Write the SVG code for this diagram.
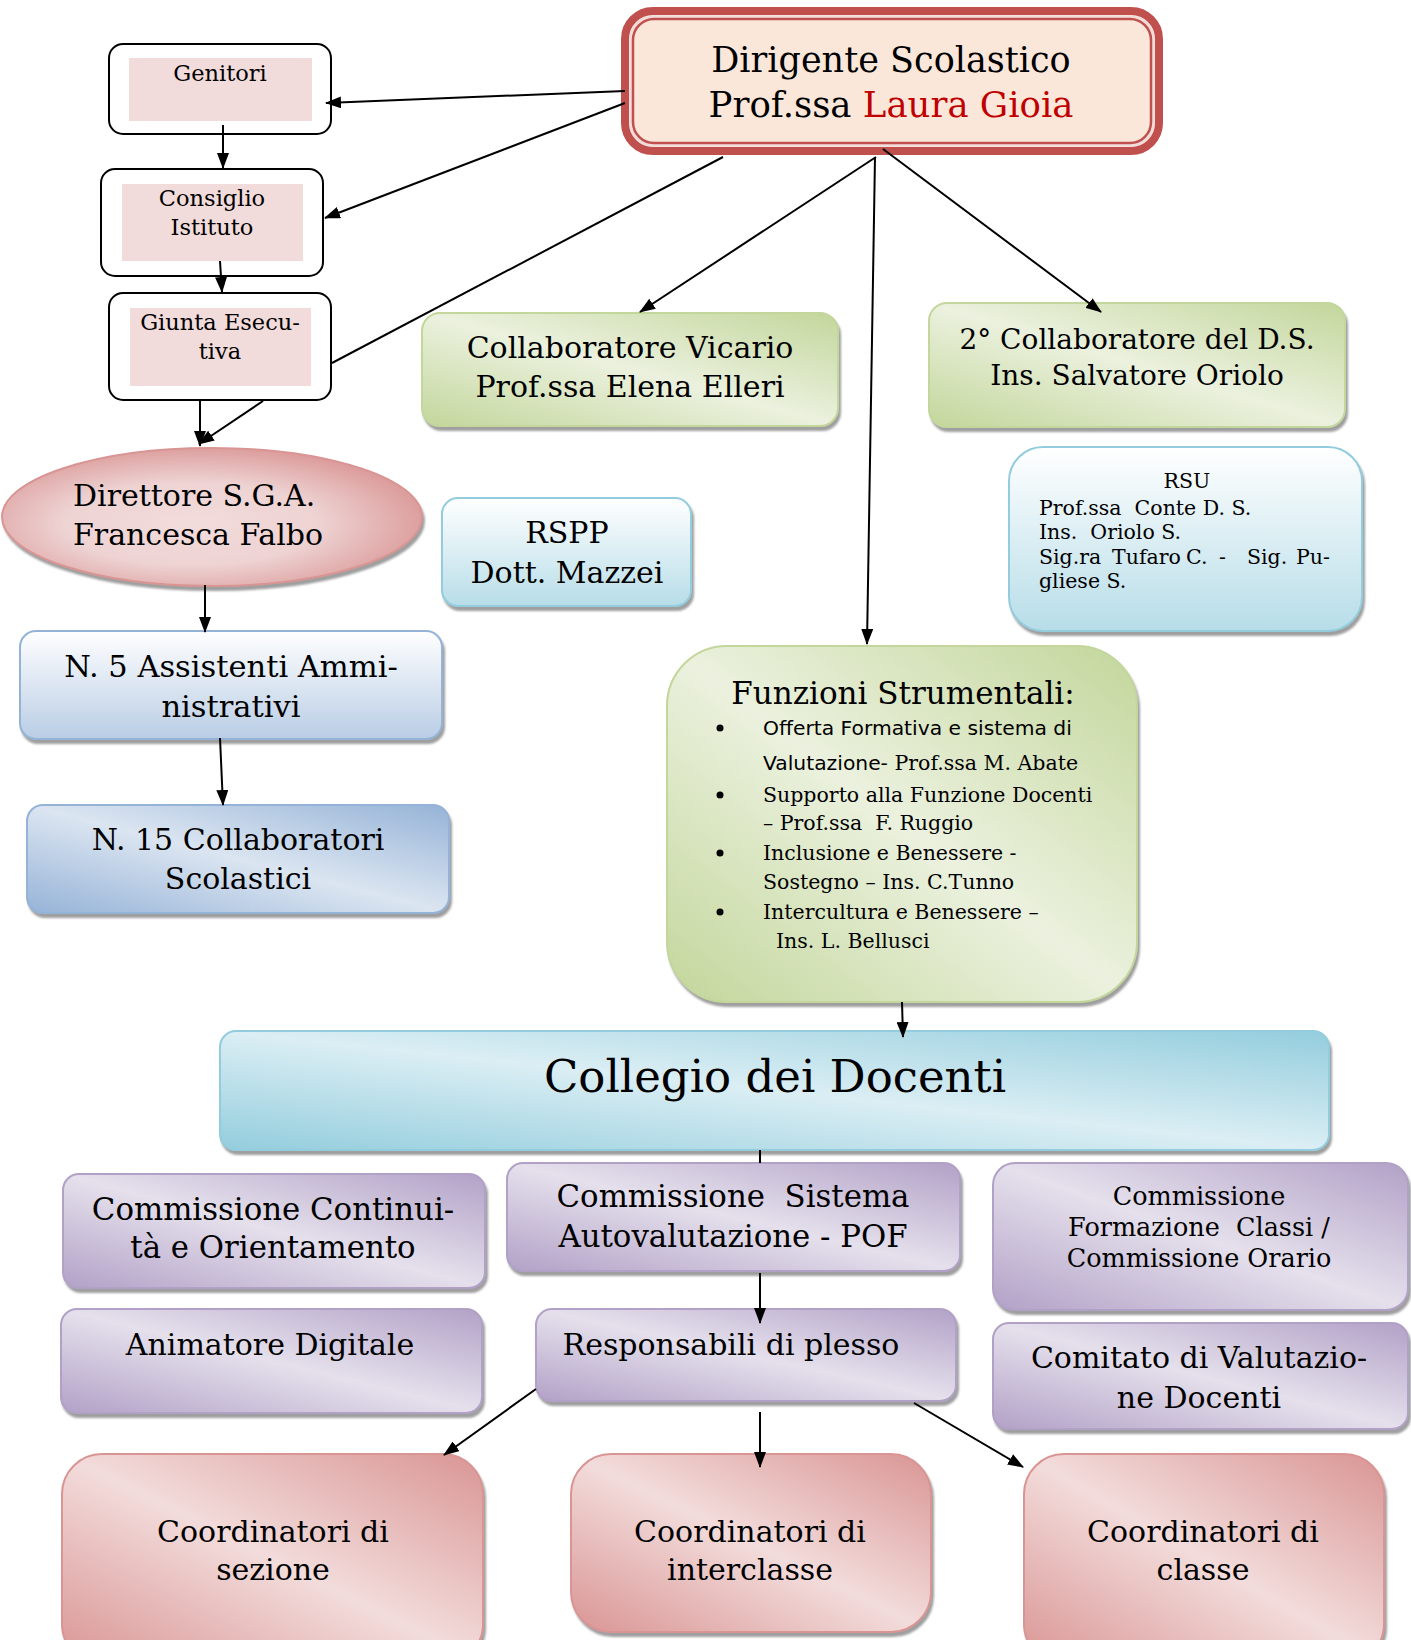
<svg xmlns="http://www.w3.org/2000/svg" width="1411" height="1640" viewBox="0 0 1411 1640">
<defs>
<filter id="sh" x="-5%" y="-5%" width="112%" height="120%">
<feDropShadow dx="2" dy="4" stdDeviation="0.8" flood-color="#7f7f7f" flood-opacity="0.75"/>
</filter>
<linearGradient id="gGreen" x1="1" y1="0" x2="0" y2="1">
<stop offset="0" stop-color="#c3d69b"/><stop offset="0.5" stop-color="#ebf1de"/><stop offset="1" stop-color="#c3d69b"/>
</linearGradient>
<linearGradient id="gPurple" x1="1" y1="0" x2="0" y2="1">
<stop offset="0" stop-color="#b2a1c7"/><stop offset="0.5" stop-color="#e5e0ec"/><stop offset="1" stop-color="#b2a1c7"/>
</linearGradient>
<linearGradient id="gPink" x1="1" y1="0" x2="0" y2="1">
<stop offset="0" stop-color="#d99594"/><stop offset="0.5" stop-color="#f2dcdb"/><stop offset="1" stop-color="#d99594"/>
</linearGradient>
<linearGradient id="gCyan" x1="1" y1="0" x2="0" y2="1">
<stop offset="0" stop-color="#93cddd"/><stop offset="0.5" stop-color="#dbeef4"/><stop offset="1" stop-color="#93cddd"/>
</linearGradient>
<linearGradient id="gBlueD" x1="1" y1="0" x2="0" y2="1">
<stop offset="0" stop-color="#95b3d7"/><stop offset="0.5" stop-color="#dbe5f1"/><stop offset="1" stop-color="#95b3d7"/>
</linearGradient>
<linearGradient id="gBlueV" x1="0" y1="0" x2="0" y2="1">
<stop offset="0" stop-color="#ffffff"/><stop offset="1" stop-color="#b9cde5"/>
</linearGradient>
<linearGradient id="gAquaV" x1="0" y1="0" x2="0" y2="1">
<stop offset="0" stop-color="#ffffff"/><stop offset="1" stop-color="#b7dde8"/>
</linearGradient>
<radialGradient id="gEll" cx="0.45" cy="0.55" r="0.6">
<stop offset="0" stop-color="#f2dcdb"/><stop offset="0.5" stop-color="#eed3d3"/><stop offset="1" stop-color="#d99594"/>
</radialGradient>
<marker id="arr" markerWidth="16" markerHeight="12" refX="15" refY="6" orient="auto" markerUnits="userSpaceOnUse">
<path d="M0,0 L16,6 L0,12 z" fill="#000"/>
</marker>
</defs>
<style>
text{font-family:"DejaVu Serif","Liberation Serif",serif;fill:#000}
.c{text-anchor:middle}
.f30{font-size:30px}
.f31{font-size:30.8px}
.f22{font-size:22.5px}
.f20{font-size:20.5px}
.cn{stroke:#000;stroke-width:2;fill:none}
.ar{marker-end:url(#arr)}
.wb{fill:#fff;stroke:#000;stroke-width:2}
.pin{fill:#f2dcdb}
.green{fill:url(#gGreen);stroke:#c3d69b;stroke-width:2;filter:url(#sh)}
.purple{fill:url(#gPurple);stroke:#b2a1c7;stroke-width:2;filter:url(#sh)}
.pink{fill:url(#gPink);stroke:#d99594;stroke-width:2;filter:url(#sh)}
.comic{font-family:"DejaVu Sans","Noto Sans",sans-serif;font-size:20.3px}
</style>

<g id="dirigente">
<rect x="625" y="11" width="534" height="140" rx="28" fill="#fbe7da" stroke="#c0504d" stroke-width="8"/>
<rect x="631" y="17" width="522" height="128" rx="22" fill="none" stroke="#f2dcdb" stroke-width="3"/>
<rect x="633" y="19" width="518" height="124" rx="21" fill="none" stroke="#c0504d" stroke-width="2.5"/>
<text class="c" x="891" y="72" font-size="35">Dirigente Scolastico</text>
<text class="c" x="891" y="117" font-size="35.5">Prof.ssa <tspan fill="#c00000">Laura Gioia</tspan></text>
</g>

<g id="genitori">
<rect class="wb" x="109" y="44" width="222" height="90" rx="14"/>
<rect class="pin" x="129" y="58" width="183" height="63"/>
<text class="c f22" x="220" y="81">Genitori</text>
</g>

<g id="consiglio">
<rect class="wb" x="101" y="169" width="222" height="107" rx="14"/>
<rect class="pin" x="122" y="184" width="181" height="77"/>
<text class="c f22" x="212" y="206">Consiglio</text>
<text class="c f22" x="212" y="235">Istituto</text>
</g>

<g id="giunta">
<rect class="wb" x="109" y="293" width="222" height="107" rx="14"/>
<rect class="pin" x="130" y="308" width="181" height="78"/>
<text class="c f22" x="220" y="330">Giunta Esecu-</text>
<text class="c f22" x="220" y="359">tiva</text>
</g>

<g id="vicario">
<rect class="green" x="422" y="313" width="416" height="113" rx="18"/>
<text class="c f30" x="630" y="358">Collaboratore Vicario</text>
<text class="c f30" x="630" y="397">Prof.ssa Elena Elleri</text>
</g>

<g id="collaboratore2">
<rect class="green" x="929" y="303" width="416" height="124" rx="18"/>
<text class="c" x="1137" y="349" font-size="28">2° Collaboratore del D.S.</text>
<text class="c" x="1137" y="385" font-size="28">Ins. Salvatore Oriolo</text>
</g>

<g id="direttore">
<ellipse cx="212" cy="517" rx="210" ry="69" fill="url(#gEll)" stroke="#d99594" stroke-width="2" filter="url(#sh)"/>
<text class="f30" x="73" y="506">Direttore S.G.A.</text>
<text class="f30" x="73" y="545">Francesca Falbo</text>
</g>

<g id="rspp">
<rect x="442" y="498" width="249" height="108" rx="16" fill="url(#gAquaV)" stroke="#93cddd" stroke-width="2" filter="url(#sh)"/>
<text class="c f30" x="567" y="543">RSPP</text>
<text class="c f30" x="567" y="583">Dott. Mazzei</text>
</g>

<g id="rsu">
<rect x="1009" y="447" width="353" height="184" rx="34" fill="url(#gAquaV)" stroke="#93cddd" stroke-width="2" filter="url(#sh)"/>
<text class="c f20" x="1187" y="488">RSU</text>
<text class="f20" x="1039" y="515" xml:space="preserve">Prof.ssa  Conte D. S.</text>
<text class="f20" x="1039" y="539" xml:space="preserve">Ins.  Oriolo S.</text>
<text class="f20" y="564" xml:space="preserve"><tspan x="1039">Sig.ra</tspan><tspan x="1112">Tufaro</tspan><tspan x="1186">C.</tspan><tspan x="1219">-</tspan><tspan x="1247">Sig.</tspan><tspan x="1296">Pu-</tspan></text>
<text class="f20" x="1039" y="588">gliese S.</text>
</g>

<g id="funzioni">
<rect class="green" x="667" y="646" width="470" height="356" rx="60"/>
<text class="c" x="903" y="704" font-size="31">Funzioni Strumentali:</text>
<circle cx="720" cy="728" r="3.5"/>
<circle cx="720" cy="795" r="3.5"/>
<circle cx="720" cy="853" r="3.5"/>
<circle cx="720" cy="912" r="3.5"/>
<text class="comic" x="763" y="735">Offerta Formativa e sistema di</text>
<text class="f20" x="763" y="770"><tspan class="comic">Valutazione-</tspan> Prof.ssa M. Abate</text>
<text class="f20" x="763" y="802">Supporto alla Funzione Docenti</text>
<text class="f20" x="763" y="830" xml:space="preserve">– Prof.ssa  F. Ruggio</text>
<text class="f20" x="763" y="860">Inclusione e Benessere -</text>
<text class="f20" x="763" y="889">Sostegno – Ins. C.Tunno</text>
<text class="f20" x="763" y="919">Intercultura e Benessere –</text>
<text class="f20" x="776" y="948">Ins. L. Bellusci</text>
</g>

<g id="assistenti">
<rect x="20" y="631" width="422" height="108" rx="16" fill="url(#gBlueV)" stroke="#95b3d7" stroke-width="2" filter="url(#sh)"/>
<text class="c" x="231" y="677" font-size="30.5">N. 5 Assistenti Ammi-</text>
<text class="c" x="231" y="717" font-size="30.5">nistrativi</text>
</g>

<g id="collaboratori-scolastici">
<rect x="27" y="805" width="422" height="108" rx="16" fill="url(#gBlueD)" stroke="#95b3d7" stroke-width="2" filter="url(#sh)"/>
<text class="c f30" x="238" y="850">N. 15 Collaboratori</text>
<text class="c f30" x="238" y="889">Scolastici</text>
</g>

<g id="collegio">
<rect x="220" y="1031" width="1109" height="119" rx="16" fill="url(#gCyan)" stroke="#93cddd" stroke-width="2" filter="url(#sh)"/>
<text class="c" x="775" y="1092" font-size="45">Collegio dei Docenti</text>
</g>

<g id="comm-continuita">
<rect class="purple" x="63" y="1174" width="422" height="114" rx="16"/>
<text class="c f31" x="273" y="1220">Commissione Continui-</text>
<text class="c f31" x="273" y="1258">tà e Orientamento</text>
</g>

<g id="comm-sistema">
<rect class="purple" x="507" y="1163" width="453" height="108" rx="16"/>
<text class="c f31" x="733" y="1207" xml:space="preserve">Commissione  Sistema</text>
<text class="c f31" x="733" y="1247">Autovalutazione - POF</text>
</g>

<g id="comm-formazione">
<rect class="purple" x="993" y="1163" width="415" height="147" rx="22"/>
<text class="c" x="1199" y="1205" font-size="25.5">Commissione</text>
<text class="c" x="1199" y="1236" font-size="25.5" xml:space="preserve">Formazione  Classi /</text>
<text class="c" x="1199" y="1267" font-size="25.5">Commissione Orario</text>
</g>

<g id="animatore">
<rect class="purple" x="61" y="1309" width="421" height="104" rx="16"/>
<text class="c f30" x="270" y="1355">Animatore Digitale</text>
</g>

<g id="responsabili">
<rect class="purple" x="536" y="1309" width="420" height="92" rx="16"/>
<text class="c f30" x="731" y="1355">Responsabili di plesso</text>
</g>

<g id="comitato">
<rect class="purple" x="993" y="1323" width="415" height="106" rx="16"/>
<text class="c f30" x="1199" y="1368">Comitato di Valutazio-</text>
<text class="c f30" x="1199" y="1408">ne Docenti</text>
</g>

<g id="coord-sezione">
<rect class="pink" x="62" y="1454" width="421" height="210" rx="40"/>
<text class="c f30" x="273" y="1542">Coordinatori di</text>
<text class="c f30" x="273" y="1580">sezione</text>
</g>

<g id="coord-interclasse">
<rect class="pink" x="571" y="1454" width="360" height="178" rx="40"/>
<text class="c f30" x="750" y="1542">Coordinatori di</text>
<text class="c f30" x="750" y="1580">interclasse</text>
</g>

<g id="coord-classe">
<rect class="pink" x="1024" y="1454" width="360" height="210" rx="40"/>
<text class="c f30" x="1203" y="1542">Coordinatori di</text>
<text class="c f30" x="1203" y="1580">classe</text>
</g>

<g id="connectors">
<path class="cn ar" d="M625,91 L326,103"/>
<path class="cn ar" d="M625,103 L325,218"/>
<path class="cn" d="M723,157 L332,363"/>
<path class="cn ar" d="M263,401 L199,444"/>
<path class="cn ar" d="M200,400 L200,446"/>
<path class="cn ar" d="M223,125 L223,168"/>
<path class="cn ar" d="M220,261 L222,292"/>
<path class="cn ar" d="M876,157 L640,312"/>
<path class="cn ar" d="M875,157 L867,644"/>
<path class="cn ar" d="M883,149 L1101,312"/>
<path class="cn ar" d="M205,585 L205,632"/>
<path class="cn ar" d="M220,738 L223,805"/>
<path class="cn ar" d="M902,1002 L903,1037"/>
<path class="cn" d="M760,1150 L760,1163"/>
<path class="cn ar" d="M760,1273 L760,1323"/>
<path class="cn ar" d="M536,1389 L444,1455"/>
<path class="cn ar" d="M760,1412 L760,1467"/>
<path class="cn ar" d="M914,1403 L1023,1467"/>
</g>
</svg>
